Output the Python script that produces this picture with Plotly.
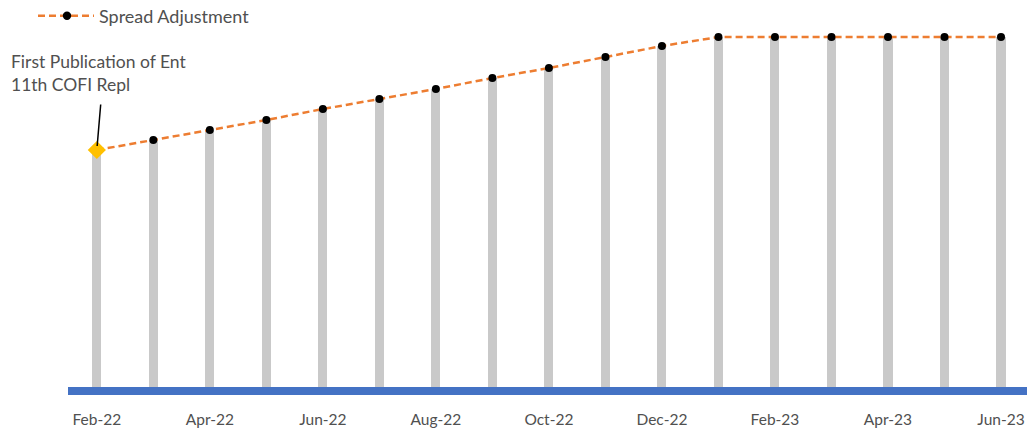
import plotly.graph_objects as go

months = ["Feb-22", "Mar-22", "Apr-22", "May-22", "Jun-22", "Jul-22", "Aug-22",
          "Sep-22", "Oct-22", "Nov-22", "Dec-22", "Jan-23", "Feb-23", "Mar-23",
          "Apr-23", "May-23", "Jun-23"]
bar_values = [2.37, 2.47, 2.57, 2.67, 2.78, 2.88, 2.98, 3.09, 3.19, 3.30, 3.41,
              3.50, 3.50, 3.50, 3.50, 3.50, 3.50]
spread_values = bar_values[:]
tick_labels = months[::2]
series_name = "Spread Adjustment"
annotation_text = "First Publication of Ent<br>11th COFI Repl"

FONT = "Lato, 'Open Sans', sans-serif"
GRAY_TXT = "#505050"
ORANGE = "#ED7D31"

W, H = 1027, 432
ML, MR, MT, MB = 68, 0, 0, 45
PW, PH = W - ML - MR, H - MT - MB


def px_x(px):
    return (px - ML) / PW


def px_y(py):
    return (H - MB - py) / PH


fig = go.Figure()
fig.add_trace(go.Bar(
    x=months, y=bar_values, width=0.16, marker_color="#C9C9C9",
    marker_line_width=0, showlegend=False, hoverinfo="skip"))
fig.add_trace(go.Scatter(
    x=months, y=spread_values, mode="lines+markers", name=series_name,
    line=dict(color=ORANGE, width=2.5, dash="7px,4px"),
    marker=dict(color="black", size=8), showlegend=False))
fig.add_trace(go.Scatter(
    x=months[:1], y=spread_values[:1], mode="markers", showlegend=False,
    marker=dict(color="#FFC000", size=14, symbol="diamond")))

# annotation: arrow + text
fig.add_annotation(
    x=months[0], y=spread_values[0], text="", showarrow=True,
    arrowhead=0, arrowwidth=1.5, arrowcolor="black", ax=4, ay=-47,
    standoff=4)
fig.add_annotation(
    x=months[0], y=spread_values[0], text=annotation_text, showarrow=False,
    xanchor="center", yanchor="bottom", align="left", yshift=53, xshift=2,
    font=dict(family=FONT, size=17.5, color=GRAY_TXT))

# custom legend
ly = px_y(15.7)
fig.add_shape(type="line", xref="paper", yref="paper",
              x0=px_x(38), x1=px_x(94), y0=ly, y1=ly,
              line=dict(color=ORANGE, width=2.5, dash="7px,4px"))
r = 4.2
fig.add_shape(type="circle", xref="paper", yref="paper",
              x0=px_x(67 - r), x1=px_x(67 + r), y0=px_y(15.7 + r), y1=px_y(15.7 - r),
              fillcolor="black", line=dict(color="black", width=0))
fig.add_annotation(
    xref="paper", yref="paper", x=px_x(97), y=ly, text=series_name,
    showarrow=False, xanchor="left", yanchor="middle",
    font=dict(family=FONT, size=18, color=GRAY_TXT))

fig.update_layout(
    width=W, height=H,
    margin=dict(l=ML, r=MR, t=MT, b=MB, autoexpand=False),
    plot_bgcolor="white", paper_bgcolor="white",
    font=dict(family=FONT, size=15.5, color=GRAY_TXT),
    bargap=0, showlegend=False,
    xaxis=dict(type="category", range=[-0.51, 16.46], showgrid=False,
               showline=True, linecolor="#4472C4", linewidth=8,
               tickmode="array", tickvals=tick_labels, ticktext=tick_labels,
               ticks="", ticklabelstandoff=11,
               tickfont=dict(family=FONT, size=15.5, color=GRAY_TXT),
               zeroline=False),
    yaxis=dict(range=[0, 3.87], visible=False, showgrid=False, zeroline=False),
)

fig.write_html("out.html")
